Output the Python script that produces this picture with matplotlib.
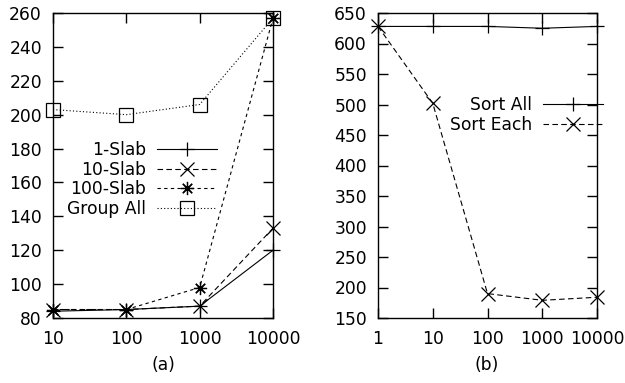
import matplotlib
matplotlib.use("Agg")
import matplotlib.pyplot as plt

plt.rcParams["font.family"] = ["DejaVu Sans"]
plt.rcParams["font.size"] = 12.3

# panel (a)
x_a = [10, 100, 1000, 10000]
slab1 = [84, 85, 87, 120]
slab10 = [85, 85, 87, 133]
slab100 = [85, 85, 98, 257]
group_all = [203, 200, 206, 257]

# panel (b)
x_b = [1, 10, 100, 1000, 10000]
sort_all = [628, 628, 628, 625, 628]
sort_each = [628, 502, 190, 179, 184]

W, H = 625, 383
fig = plt.figure(figsize=(W / 100, H / 100), dpi=100)
ax1 = fig.add_axes([53 / W, 65 / H, 220 / W, 305 / H])
ax2 = fig.add_axes([378 / W, 65 / H, 219 / W, 305 / H])

lw = 0.8
ms = 9.5
mew = 0.9
asterisk = (8, 2, 0)

ax1.plot(x_a, slab1, color="black", lw=lw, ls="-", marker="+", ms=ms, mew=mew,
         clip_on=False, label="1-Slab")
ax1.plot(x_a, slab10, color="black", lw=lw, ls=(0, (5, 3)), marker="x", ms=ms, mew=mew,
         clip_on=False, label="10-Slab")
ax1.plot(x_a, slab100, color="black", lw=lw, ls=(0, (3, 3)), marker=asterisk, ms=ms, mew=mew,
         clip_on=False, label="100-Slab")
ax1.plot(x_a, group_all, color="black", lw=lw, ls=(0, (1, 2)), marker="s", ms=ms, mew=mew,
         mfc="none", clip_on=False, label="Group All")

ax2.plot(x_b, sort_all, color="black", lw=lw, ls="-", marker="+", ms=ms, mew=mew,
         clip_on=False, label="Sort All")
ax2.plot(x_b, sort_each, color="black", lw=lw, ls=(0, (5, 3)), marker="x", ms=ms, mew=mew,
         clip_on=False, label="Sort Each")

for ax, xt, yt in [(ax1, x_a, range(80, 261, 20)), (ax2, x_b, range(150, 651, 50))]:
    ax.set_xscale("log")
    ax.set_xlim(xt[0], xt[-1])
    ax.set_xticks(xt)
    ax.set_xticklabels([str(v) for v in xt])
    ax.minorticks_off()
    ax.set_yticks(list(yt))
    ax.set_ylim(min(yt), max(yt))
    ax.tick_params(direction="in", length=7, width=1, top=True, right=True)
    ax.tick_params(axis="x", pad=9)
    ax.tick_params(axis="y", pad=8)
    for s in ax.spines.values():
        s.set_linewidth(1)

ax1.legend(loc="upper right", bbox_to_anchor=(217 / W, (H - 141) / H),
           bbox_transform=fig.transFigure, frameon=False, markerfirst=False,
           numpoints=1, handlelength=3.5, handletextpad=0.65, labelspacing=0.1,
           borderpad=0, borderaxespad=0)
ax2.legend(loc="upper right", bbox_to_anchor=(603 / W, (H - 96) / H),
           bbox_transform=fig.transFigure, frameon=False, markerfirst=False,
           numpoints=1, handlelength=3.5, handletextpad=0.65, labelspacing=0.1,
           borderpad=0, borderaxespad=0)

fig.text(163 / W, (H - 365) / H, "(a)", ha="center", va="center")
fig.text(487 / W, (H - 365) / H, "(b)", ha="center", va="center")

fig.savefig("out.png", dpi=100)
